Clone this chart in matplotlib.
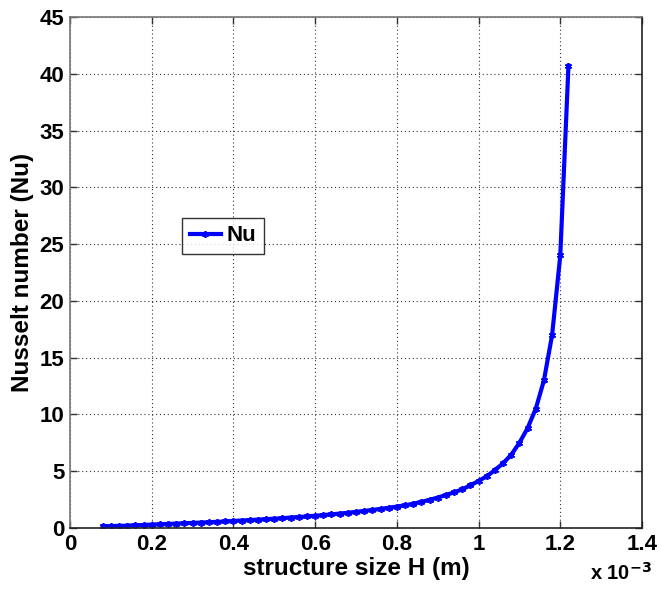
import matplotlib
matplotlib.use('Agg')
import matplotlib.pyplot as plt
import numpy as np

plt.rcParams['font.family'] = ['Liberation Sans', 'DejaVu Sans']
plt.rcParams['font.weight'] = 'bold'

# structure size H (units of 1e-3 m) and Nusselt number
h_values = [0.08, 0.10, 0.12, 0.14, 0.16, 0.18, 0.20, 0.22, 0.24, 0.26,
            0.28, 0.30, 0.32, 0.34, 0.36, 0.38, 0.40, 0.42, 0.44, 0.46,
            0.48, 0.50, 0.52, 0.54, 0.56, 0.58, 0.60, 0.62, 0.64, 0.66,
            0.68, 0.70, 0.72, 0.74, 0.76, 0.78, 0.80, 0.82, 0.84, 0.86,
            0.88, 0.90, 0.92, 0.94, 0.96, 0.98, 1.00, 1.02, 1.04, 1.06,
            1.08, 1.10, 1.12, 1.14, 1.16, 1.18, 1.20, 1.22]
nu_values = [0.15, 0.17, 0.19, 0.21, 0.24, 0.27, 0.30, 0.33, 0.36, 0.39,
             0.42, 0.45, 0.48, 0.51, 0.54, 0.58, 0.62, 0.66, 0.70, 0.74,
             0.78, 0.82, 0.87, 0.92, 0.97, 1.02, 1.08, 1.14, 1.20, 1.27,
             1.34, 1.42, 1.50, 1.59, 1.68, 1.78, 1.89, 2.00, 2.14, 2.30,
             2.48, 2.68, 2.90, 3.14, 3.40, 3.76, 4.14, 4.55, 5.10, 5.70,
             6.45, 7.50, 8.80, 10.5, 13.0, 17.0, 24.0, 40.7]

x_ticks = [0, 0.2, 0.4, 0.6, 0.8, 1, 1.2, 1.4]
x_tick_labels = ['0', '0.2', '0.4', '0.6', '0.8', '1', '1.2', '1.4']
y_ticks = [0, 5, 10, 15, 20, 25, 30, 35, 40, 45]

fs_tick = 16
fs_label = 17.5

fig = plt.figure(figsize=(6.59, 5.93), dpi=100)
ax = fig.add_axes([0.1062, 0.1096, 0.868, 0.8617])

ax.plot(h_values, nu_values, color='#0000ff', linewidth=3,
        marker=(6, 2, 0), markersize=5, markeredgewidth=1.2, label='Nu')

ax.set_xlim(0, 1.4)
ax.set_ylim(0, 45)
ax.set_xticks(x_ticks)
ax.set_xticklabels(x_tick_labels)
ax.set_yticks(y_ticks)

ax.grid(True, linestyle=(0, (1, 2.5)), color='#333333', linewidth=0.8)
ax.tick_params(direction='in', top=True, right=True, length=5,
               labelsize=fs_tick, width=1, color='#333333', pad=4)
for lab in ax.get_xticklabels() + ax.get_yticklabels():
    lab.set_fontweight('bold')

for side in ['top', 'left']:
    ax.spines[side].set_color('#777777')
for side in ['bottom', 'right']:
    ax.spines[side].set_color('#222222')
for s in ax.spines.values():
    s.set_linewidth(1.2)

ax.set_xlabel('structure size H (m)', fontsize=fs_label, fontweight='bold', labelpad=2)
ax.set_ylabel('Nusselt number (Nu)', fontsize=fs_label, fontweight='bold', labelpad=4)

fig.text(0.895, 0.022, r'x 10$^{\mathbf{-3}}$', fontsize=fs_tick - 1.5, fontweight='bold')

leg = ax.legend(loc='lower left', bbox_to_anchor=(0.196, 0.536),
                fontsize=fs_tick, frameon=True, fancybox=False,
                borderpad=0.35, handlelength=1.4, handletextpad=0.25,
                borderaxespad=0)
leg.get_frame().set_edgecolor('black')
leg.get_frame().set_linewidth(1.0)
for t in leg.get_texts():
    t.set_fontweight('bold')

fig.savefig('out.png', dpi=100)
